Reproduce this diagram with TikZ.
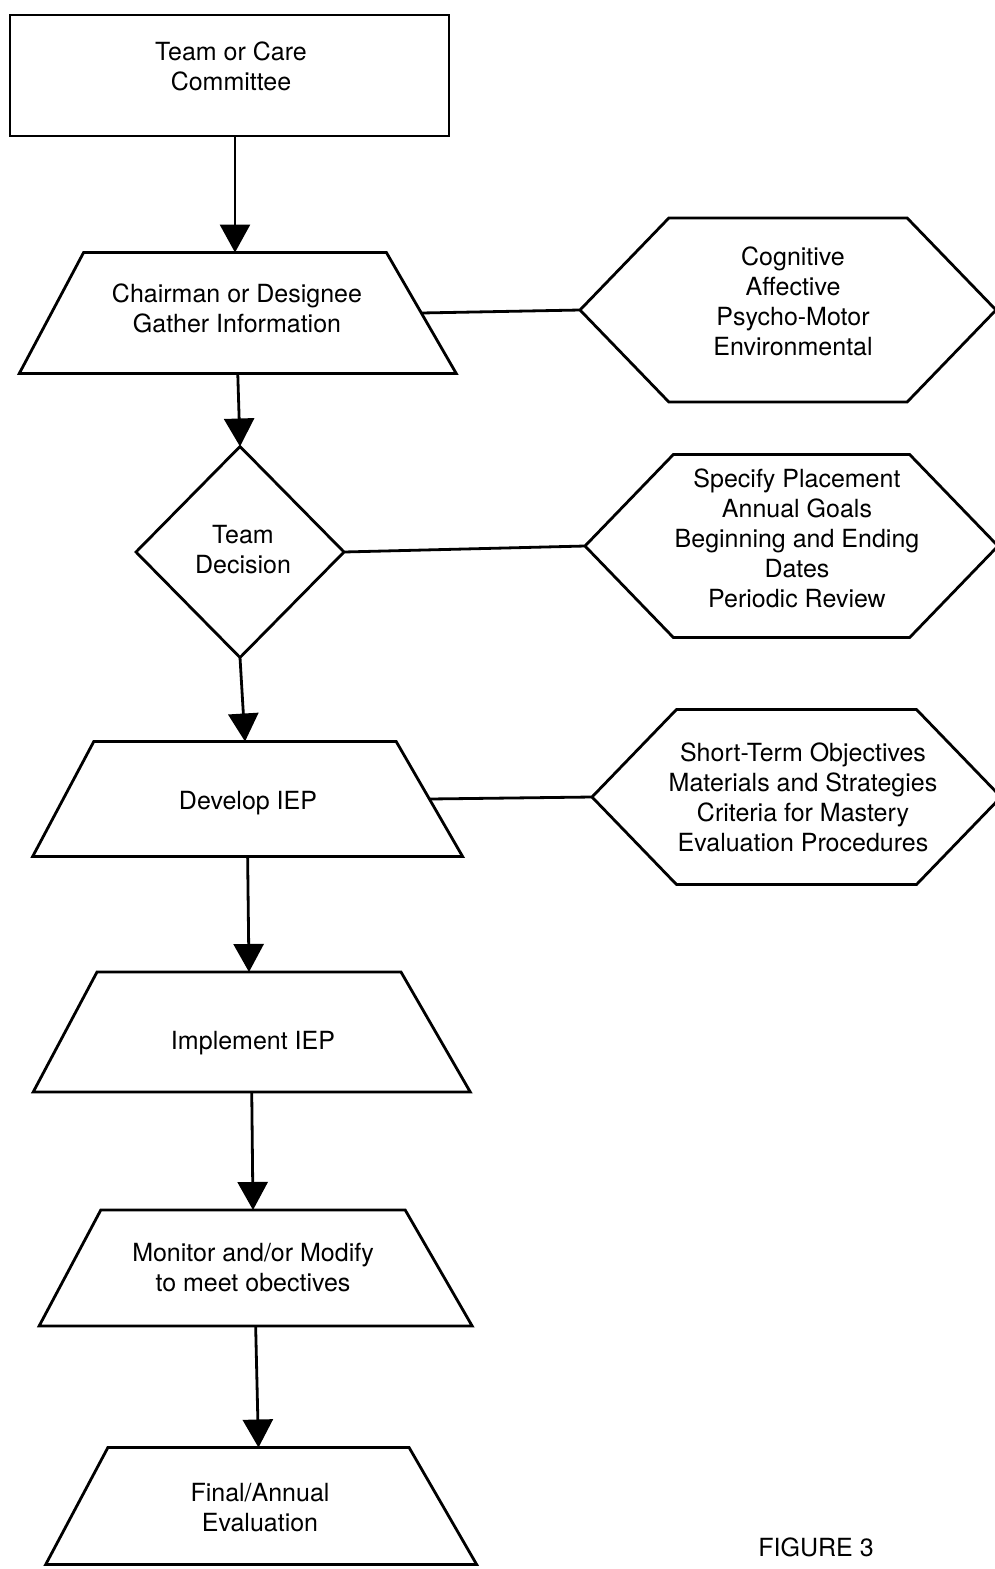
\documentclass[tikz,border=0pt]{standalone}
\usepackage{fontspec}
\setmainfont{TeX Gyre Heros}
\usetikzlibrary{shapes.geometric,shapes.symbols,arrows.meta}

\begin{document}
\begin{tikzpicture}[x=0.5pt,y=-0.5pt,
  every node/.style={inner sep=0pt, outer sep=0pt},
  shapeline/.style={draw=black, line width=1.4pt, inner sep=2pt},
  boxshape/.style={shapeline, rectangle},
  % the inner box gives the top side and the height; the slanted sides are added outside it
  trap/.style={shapeline, trapezium, trapezium left angle=62,
    trapezium right angle=60},
  decide/.style={shapeline, diamond},
  hexa/.style={shapeline, signal, signal to=east and west,
    signal pointer angle=92},
  words/.style={align=center, font=\fontsize{12.5}{15}\selectfont},
  flow/.style={line width=1.4pt, -{Triangle[width=15pt,length=14pt]}},
  link/.style={line width=1.4pt}
]
\useasboundingbox (0,0) rectangle (995,1569);

% main column
\node[boxshape, minimum width=219.5pt, minimum height=60.5pt] (committee) at (229.5,75.5) {};
\node[trap, inner xsep=75.7pt, inner ysep=30.25pt] (gather) at (235,313) {};
\node[decide, minimum width=104pt, minimum height=105.5pt] (decision) at (240,552) {};
\node[trap, inner xsep=75.6pt, inner ysep=28.75pt] (develop) at (245,799) {};
\node[trap, inner xsep=76pt, inner ysep=30pt] (implement) at (249,1032) {};
\node[trap, inner xsep=76.1pt, inner ysep=29pt] (monitor) at (253,1268) {};
\node[trap, inner xsep=75.3pt, inner ysep=29.25pt] (final) at (258.5,1506) {};

% side column
\node[hexa, minimum width=208pt, minimum height=92pt] (domains) at (788,310) {};
\node[hexa, minimum width=206.5pt, minimum height=91.5pt] (placement) at (791.5,546) {};
\node[hexa, minimum width=204.5pt, minimum height=87.5pt] (objectives) at (796.5,797) {};

% labels
\node[words] (committee-t) at (231,66) {Team or Care\\Committee};
\node[words] (gather-t) at (237,308) {Chairman or Designee\\Gather Information};
\node[words] (decision-t) at (243,550) {Team\\Decision};
\node[words] (develop-t) at (248,803) {Develop IEP};
\node[words] (implement-t) at (253,1043) {Implement IEP};
\node[words] (monitor-t) at (253,1268) {Monitor and/or Modify\\to meet obectives};
\node[words] (final-t) at (260,1508) {Final/Annual\\Evaluation};
\node[words] (domains-t) at (793,301) {Cognitive\\Affective\\Psycho-Motor\\Environmental};
\node[words] (placement-t) at (797,538) {Specify Placement\\Annual Goals\\Beginning and Ending\\Dates\\Periodic Review};
\node[words] (objectives-t) at (803,797) {Short-Term Objectives\\Materials and Strategies\\Criteria for Mastery\\Evaluation Procedures};
\node[words] (figure-t) at (816,1547) {FIGURE 3};

% flow arrows
\draw[flow] (gather.top side |- committee.south) -- (gather.top side);
\draw[flow] (gather.bottom side) -- (decision.north);
\draw[flow] (decision.south) -- (develop.top side);
\draw[flow] (develop.bottom side) -- (implement.top side);
\draw[flow] (implement.bottom side) -- (monitor.top side);
\draw[flow] (monitor.bottom side) -- (final.top side);

% side links
\draw[link] (gather.right side) -- (domains.west);
\draw[link] (decision.east) -- (placement.west);
\draw[link] (develop.right side) -- (objectives.west);
\end{tikzpicture}
\end{document}
